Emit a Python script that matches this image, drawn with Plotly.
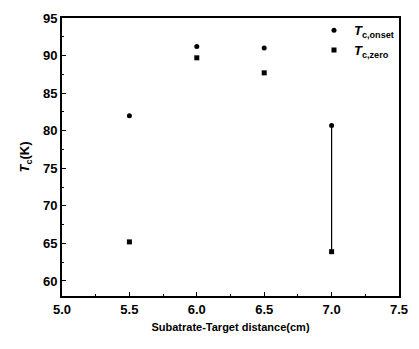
import plotly.graph_objects as go

distance = [5.5, 6.0, 6.5, 7.0]
tc_onset = [82.0, 91.2, 91.0, 80.7]
tc_zero = [65.2, 89.7, 87.7, 63.9]
x_ticks = [5.0, 5.5, 6.0, 6.5, 7.0, 7.5]
x_tick_labels = ["5.0", "5.5", "6.0", "6.5", "7.0", "7.5"]
y_ticks = [60, 65, 70, 75, 80, 85, 90, 95]

fig = go.Figure()
fig.add_trace(go.Scatter(
    x=[distance[3], distance[3]], y=[tc_zero[3], tc_onset[3]],
    mode="lines", line=dict(color="black", width=1.2), showlegend=False, hoverinfo="skip"))
fig.add_trace(go.Scatter(
    x=distance, y=tc_onset, mode="markers", name="<b><i>T</i></b><sub><b>c,onset</b></sub>",
    marker=dict(symbol="circle", size=5, color="black")))
fig.add_trace(go.Scatter(
    x=distance, y=tc_zero, mode="markers", name="<b><i>T</i></b><sub><b>c,zero</b></sub>",
    marker=dict(symbol="square", size=5, color="black")))

font = dict(family="Liberation Sans, Arial", size=13, color="black")
fig.update_layout(
    width=419, height=349,
    margin=dict(l=62, r=11, t=18, b=53),
    paper_bgcolor="white", plot_bgcolor="white",
    font=font,
    legend=dict(x=1.0, y=1.01, xanchor="right", yanchor="top", bgcolor="rgba(0,0,0,0)",
                font=dict(family="Liberation Sans, Arial", size=13, color="black"),
                itemwidth=30, tracegroupgap=2),
    xaxis=dict(range=[5.0, 7.5], tickvals=x_ticks, ticktext=["<b>%s</b>" % t for t in x_tick_labels],
               ticks="inside", ticklen=4, tickcolor="black",
               minor=dict(ticks="inside", ticklen=2, dtick=0.25, tickcolor="black"),
               showline=True, linecolor="black", linewidth=2, mirror=True,
               showgrid=False, zeroline=False,
               title=dict(text="<b>Subatrate-Target distance(cm)</b>", font=dict(size=11), standoff=8)),
    yaxis=dict(range=[58, 95], tickvals=y_ticks, ticktext=["<b>%d</b>" % v for v in y_ticks],
               ticks="inside", ticklen=4, tickcolor="black",
               minor=dict(ticks="inside", ticklen=2, dtick=2.5, tickcolor="black"),
               showline=True, linecolor="black", linewidth=2, mirror=True,
               showgrid=False, zeroline=False,
               title=dict(text="<b><i>T</i><sub>c</sub>(K)</b>", font=dict(size=13), standoff=10)),
)
fig.write_html("out.html")
